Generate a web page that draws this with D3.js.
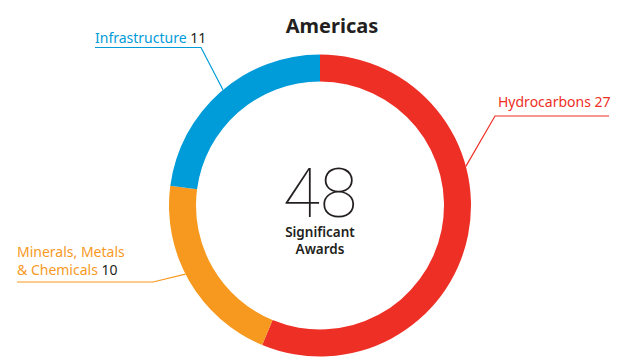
<!DOCTYPE html>
<html>
<head>
<meta charset="utf-8">
<script src="https://cdn.jsdelivr.net/npm/d3@7"></script>
<style>
  html, body { margin: 0; padding: 0; background: #fff; }
  svg { display: block; }
</style>
</head>
<body>
<svg id="chart"></svg>
<script>
// data
const categories = ["Hydrocarbons", "Minerals, Metals & Chemicals", "Infrastructure"];
const awards = [27, 10, 11];
const colors = ["#ee2f25", "#f7991e", "#009bd9"];
const title = "Americas";
const centerLines = ["Significant", "Awards"];

const width = 626;
const height = 361;

const config = {
  cx: 320,
  cy: 205.5,
  outerR: 151,
  innerR: 124,
  labelFont: "'Noto Sans', sans-serif",
  labelSize: 14,
  darkText: "#231f20",
};

// label layout: text lines, text anchor pos, underline, angle of leader on ring (deg)
const labelLayout = [
  { lines: ["Hydrocarbons"], x: 498, y: 107, lineY: 116, x1: 495, x2: 609, ringAngle: 75, valueColored: true },
  { lines: ["Minerals, Metals", "& Chemicals"], x: 17, y: 257, lineY: 282, x1: 17, x2: 153, ringAngle: 243, valueColored: false },
  { lines: ["Infrastructure"], x: 95, y: 43, lineY: 47.5, x1: 95, x2: 201, ringAngle: 320, valueColored: false },
];

const svg = d3.select("#chart").attr("width", width).attr("height", height);

const pie = d3.pie().sort(null).value((d) => d);
const arcs = pie(awards);
const arc = d3.arc().innerRadius(config.innerR).outerRadius(config.outerR);

const ringG = svg.append("g").attr("transform", `translate(${config.cx},${config.cy})`);
ringG
  .selectAll("path")
  .data(arcs)
  .join("path")
  .attr("d", arc)
  .attr("fill", (d, i) => colors[i]);

// leader lines
const leaderG = svg.append("g").attr("class", "leaders");
labelLayout.forEach((l, i) => {
  const a = (l.ringAngle * Math.PI) / 180;
  const rx = config.cx + config.outerR * Math.sin(a);
  const ry = config.cy - config.outerR * Math.cos(a);
  // the underline end nearest the ring
  const ex = Math.abs(l.x1 - rx) < Math.abs(l.x2 - rx) ? l.x1 : l.x2;
  const other = ex === l.x1 ? l.x2 : l.x1;
  leaderG
    .append("path")
    .attr("d", `M${other},${l.lineY} L${ex},${l.lineY} L${rx},${ry}`)
    .attr("fill", "none")
    .attr("stroke", colors[i])
    .attr("stroke-width", 1.2);
});

// labels
const labelG = svg.append("g").attr("class", "labels");
labelLayout.forEach((l, i) => {
  l.lines.forEach((line, j) => {
    const t = labelG
      .append("text")
      .attr("x", l.x)
      .attr("y", l.y + j * 18)
      .attr("font-family", config.labelFont)
      .attr("font-size", config.labelSize)
      .attr("fill", colors[i]);
    t.append("tspan").text(line);
    if (j === l.lines.length - 1) {
      t.append("tspan")
        .attr("fill", l.valueColored ? colors[i] : config.darkText)
        .text(" " + awards[i]);
    }
  });
});

// title
svg
  .append("text")
  .attr("x", 332)
  .attr("y", 33)
  .attr("text-anchor", "middle")
  .attr("font-family", config.labelFont)
  .attr("font-weight", 700)
  .attr("font-size", 20)
  .attr("fill", config.darkText)
  .text(title);

// centre total
const total = d3.sum(awards);
svg
  .append("text")
  .attr("x", config.cx)
  .attr("y", 217)
  .attr("text-anchor", "middle")
  .attr("font-family", "Roboto, sans-serif")
  .attr("font-weight", 100)
  .attr("font-size", 68)
  .attr("fill", config.darkText)
  .text(total);

centerLines.forEach((s, j) => {
  svg
    .append("text")
    .attr("x", config.cx)
    .attr("y", 237 + j * 16.5)
    .attr("text-anchor", "middle")
    .attr("font-family", config.labelFont)
    .attr("font-weight", 600)
    .attr("font-size", 13.5)
    .attr("fill", config.darkText)
    .text(s);
});
</script>
</body>
</html>
